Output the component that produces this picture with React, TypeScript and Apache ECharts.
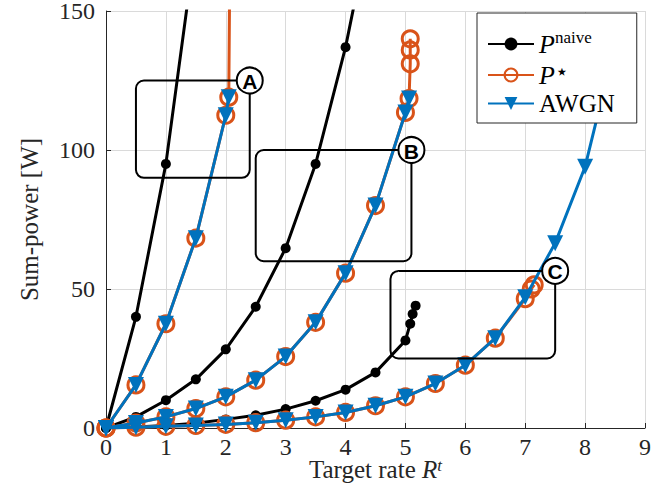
import React, { useEffect, useRef } from 'react';
import * as echarts from 'echarts';

// ---- data (x = target rate, y = sum-power [W]) ----
const naiveA = [[0, 0], [0.5, 40], [1, 95], [1.5, 175]];
const naiveB = [[0, 0], [0.5, 4], [1, 10], [1.5, 17.5], [2, 28.3], [2.5, 43.6], [3, 64.7], [3.5, 95], [4, 137], [4.5, 190]];
const naiveC = [[0, 0], [0.5, 0.4], [1, 0.9], [1.5, 1.7], [2, 3.1], [2.5, 4.6], [3, 6.8], [3.5, 9.8], [4, 13.8], [4.5, 20], [5, 31.5], [5.08, 37.5], [5.12, 41], [5.17, 44]];

const starA = [[0, 0], [0.5, 15.5], [1, 37.5], [1.5, 68.3], [2, 112.5], [2.05, 119], [2.07, 175]];
const starB = [[0, 0], [0.5, 1.8], [1, 4], [1.5, 7], [2, 11.2], [2.5, 17.2], [3, 25.7], [3.5, 38], [4, 55.7], [4.5, 80], [5, 113.5], [5.06, 118.5], [5.08, 131], [5.08, 136], [5.08, 140]];
const starC = [[0, 0], [0.5, 0.3], [1, 0.6], [1.5, 0.9], [2, 1.3], [2.5, 1.9], [3, 2.8], [3.5, 4], [4, 5.6], [4.5, 8], [5, 11.2], [5.5, 16], [6, 22.6], [6.5, 32.3], [7, 46.5], [7.1, 50], [7.15, 51.5]];

const awgnA = [[0, 0], [0.5, 15.5], [1, 37.5], [1.5, 68.3], [2, 112.5], [2.05, 119]];
const awgnB = [[0, 0], [0.5, 1.8], [1, 4], [1.5, 7], [2, 11.2], [2.5, 17.2], [3, 25.7], [3.5, 38], [4, 55.7], [4.5, 80], [5, 113.5], [5.06, 118.5]];
const awgnC = [[0, 0], [0.5, 0.3], [1, 0.6], [1.5, 0.9], [2, 1.3], [2.5, 1.9], [3, 2.8], [3.5, 4], [4, 5.6], [4.5, 8], [5, 11.2], [5.5, 16], [6, 22.6], [6.5, 32.3], [7, 47], [7.5, 66.5], [8, 94], [8.5, 138]];

const legendNames = ['naive', 'star', 'awgn'];
const annotations = [
  { label: 'A', x0: 0.5, x1: 2.4, y0: 90, y1: 125 },
  { label: 'B', x0: 2.5, x1: 5.1, y0: 60, y1: 100 },
  { label: 'C', x0: 4.75, x1: 7.5, y0: 25, y1: 56.5 },
];

const SERIF = '"Liberation Serif", "Times New Roman", serif';
const BLACK = '#000000';
const ORANGE = '#D95319';
const BLUE = '#0072BD';
const AXIS = '#262626';

function naiveSeries(data: number[][]) {
  return {
    type: 'line', name: 'naive', data, symbol: 'circle', symbolSize: 10,
    lineStyle: { color: BLACK, width: 3 }, itemStyle: { color: BLACK }, z: 2,
  };
}
function starSeries(data: number[][]) {
  return {
    type: 'line', name: 'star', data, symbol: 'circle', symbolSize: 16,
    lineStyle: { color: ORANGE, width: 3 },
    itemStyle: { color: 'rgba(0,0,0,0)', borderColor: ORANGE, borderWidth: 3 }, z: 3,
  };
}
function awgnSeries(data: number[][]) {
  return {
    type: 'line', name: 'awgn', data, symbol: 'triangle', symbolRotate: 180, symbolSize: 16,
    lineStyle: { color: BLUE, width: 3 }, itemStyle: { color: BLUE }, z: 4,
  };
}

export default function App() {
  const ref = useRef<HTMLDivElement>(null);
  useEffect(() => {
    const chart = echarts.init(ref.current!, undefined, { renderer: 'svg' });
    const option: any = {
      animation: false,
      backgroundColor: '#ffffff',
      grid: { left: 106, right: 27, top: 11, bottom: 59, containLabel: false, outerBoundsMode: 'none' },
      xAxis: {
        type: 'value', min: 0, max: 9, interval: 1,
        name: 'Target rate {i|R}{sup|t}', nameLocation: 'middle', nameGap: 29, nameMoveOverlap: false,
        nameTextStyle: {
          fontFamily: SERIF, fontSize: 25, color: AXIS, lineHeight: 24,
          rich: {
            i: { fontFamily: SERIF, fontSize: 25, fontStyle: 'italic', color: AXIS, lineHeight: 24 },
            sup: { fontFamily: SERIF, fontSize: 17, fontStyle: 'italic', color: AXIS, verticalAlign: 'top', lineHeight: 14 },
          },
        },
        axisLine: { show: true, onZero: false, lineStyle: { color: AXIS, width: 1 } },
        axisTick: { show: true, inside: true, length: 5, lineStyle: { color: AXIS } },
        axisLabel: { fontFamily: SERIF, fontSize: 24, color: AXIS, margin: 10, lineHeight: 17 },
        splitLine: { show: true, lineStyle: { color: '#dadada', width: 1 } },
      },
      yAxis: {
        type: 'value', min: 0, max: 150, interval: 50,
        name: 'Sum-power [W]', nameLocation: 'middle', nameGap: 64, nameMoveOverlap: false,
        nameTextStyle: { fontFamily: SERIF, fontSize: 25, color: AXIS },
        axisLine: { show: true, onZero: false, lineStyle: { color: AXIS, width: 1 } },
        axisTick: { show: true, inside: true, length: 5, lineStyle: { color: AXIS } },
        axisLabel: { fontFamily: SERIF, fontSize: 24, color: AXIS, margin: 11, lineHeight: 16 },
        splitLine: { show: true, lineStyle: { color: '#dadada', width: 1 } },
      },
      legend: {
        data: legendNames,
        orient: 'vertical', left: 477, top: 13,
        padding: [16, 22, 7, 10],
        itemWidth: 46, itemHeight: 16, itemGap: 3,
        backgroundColor: '#ffffff', borderColor: AXIS, borderWidth: 1, borderRadius: 0,
        z: 20,
        formatter: (n: string) => n === 'naive' ? '{i|P}{sup|naive}' : n === 'star' ? '{i|P}{star|⋆}' : '{t|AWGN}',
        textStyle: {
          fontFamily: SERIF, fontSize: 25, color: '#000',
          rich: {
            i: { fontFamily: SERIF, fontSize: 26, fontStyle: 'italic', color: '#000', lineHeight: 30 },
            sup: { fontFamily: SERIF, fontSize: 17, color: '#000', verticalAlign: 'top', lineHeight: 18 },
            star: { fontFamily: '"DejaVu Sans", sans-serif', fontSize: 22, color: '#000', verticalAlign: 'top', lineHeight: 20 },
            t: { fontFamily: SERIF, fontSize: 25, color: '#000', lineHeight: 30 },
          },
        },
      },
      series: [
        naiveSeries(naiveA), naiveSeries(naiveB), naiveSeries(naiveC),
        starSeries(starA), starSeries(starB), starSeries(starC),
        awgnSeries(awgnA), awgnSeries(awgnB), awgnSeries(awgnC),
      ],
    };
    chart.setOption(option);

    const graphics: any[] = [];
    annotations.forEach((a) => {
      const tl = chart.convertToPixel({ gridIndex: 0 }, [a.x0, a.y1]) as number[];
      const br = chart.convertToPixel({ gridIndex: 0 }, [a.x1, a.y0]) as number[];
      graphics.push({
        type: 'rect', z: 10,
        shape: { x: tl[0], y: tl[1], width: br[0] - tl[0], height: br[1] - tl[1], r: 8 },
        style: { fill: 'none', stroke: '#000', lineWidth: 2 },
      });
      graphics.push({
        type: 'circle', z: 11,
        shape: { cx: br[0], cy: tl[1], r: 13 },
        style: { fill: '#fff', stroke: '#000', lineWidth: 2 },
      });
      graphics.push({
        type: 'text', z: 12, x: br[0], y: tl[1] + 1,
        style: {
          text: a.label, align: 'center', verticalAlign: 'middle',
          font: 'bold 21px "Liberation Sans", Arial, sans-serif', fill: '#000',
        },
      });
    });
    chart.setOption({ graphic: graphics });

    return () => chart.dispose();
  }, []);
  return <div ref={ref} style={{ width: 672, height: 487, position: 'absolute', left: 0, top: 0 }} />;
}
